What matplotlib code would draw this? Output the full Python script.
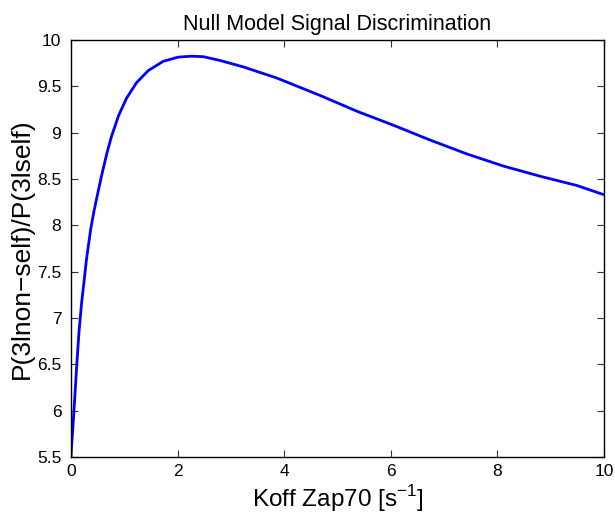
import matplotlib
matplotlib.use("Agg")
import matplotlib.pyplot as plt

plt.rcParams['font.family'] = ['Liberation Sans', 'DejaVu Sans']
plt.rcParams['mathtext.fontset'] = 'custom'
plt.rcParams['mathtext.rm'] = 'Liberation Sans'

# Dissociation rate of Zap70 [1/s]
koff = [0, 0.01, 0.04, 0.075, 0.11, 0.15, 0.2, 0.25, 0.29, 0.37, 0.43, 0.50,
        0.575, 0.67, 0.76, 0.89, 1.04, 1.23, 1.45, 1.73, 2.01, 2.25, 2.48,
        2.79, 3.23, 3.86, 4.68, 5.37, 6.05, 6.74, 7.43, 8.11, 8.80, 9.49, 10]
# Ratio P(3|non-self)/P(3|self)
ratio = [5.5, 5.61, 5.86, 6.18, 6.51, 6.85, 7.17, 7.42, 7.63, 7.96, 8.15,
         8.34, 8.54, 8.77, 8.96, 9.18, 9.37, 9.54, 9.67, 9.77, 9.815, 9.825,
         9.82, 9.78, 9.71, 9.59, 9.40, 9.23, 9.08, 8.92, 8.77, 8.64, 8.53,
         8.43, 8.33]

xticks = [0, 2, 4, 6, 8, 10]
yticks = [5.5, 6, 6.5, 7, 7.5, 8, 8.5, 9, 9.5, 10]
yticklabels = ['5.5', '6', '6.5', '7', '7.5', '8', '8.5', '9', '9.5', '10']

fig = plt.figure(figsize=(6.15, 5.17), dpi=100)
ax = fig.add_axes([71 / 615, 60 / 517, 533 / 615, 417 / 517])

ax.plot(koff, ratio, color='#0000ff', lw=2.0)

ax.set_xlim(0, 10)
ax.set_ylim(5.5, 10)
ax.set_xticks(xticks)
ax.set_xticklabels([str(t) for t in xticks])
ax.set_yticks(yticks)
ax.set_yticklabels(yticklabels)

ax.tick_params(direction='in', length=5, width=0.8, top=True, right=True,
               labelsize=12.5, color='#333333')
ax.tick_params(axis='y', pad=7)
ax.tick_params(axis='x', pad=5)
for s in ax.spines.values():
    s.set_linewidth(1.0)

ax.set_title('Null Model Signal Discrimination', fontsize=15.5, pad=7)
ax.set_xlabel(r'Koff Zap70 [s$^{-1}$]', fontsize=17.5, labelpad=3)
ax.set_ylabel('P(3lnon\u2212self)/P(3lself)', fontsize=19, labelpad=2)

fig.savefig('out.png', dpi=100)
